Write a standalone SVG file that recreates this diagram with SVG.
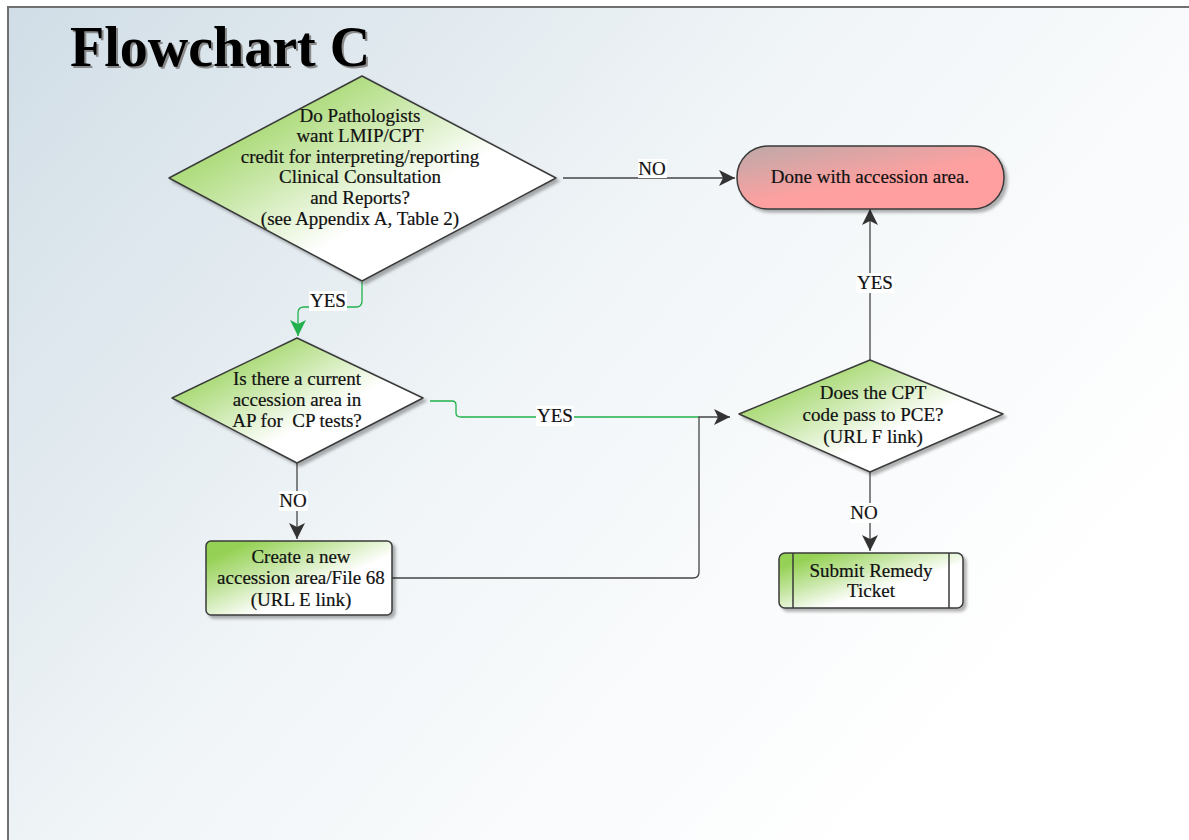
<svg xmlns="http://www.w3.org/2000/svg" width="1189" height="840" viewBox="0 0 1189 840">
<style>
.t{font-family:"Liberation Serif","Times New Roman",serif;font-size:19px;fill:#111;stroke:#111;stroke-width:0.2;text-anchor:middle}
.sh{stroke:#3a3a3a;stroke-width:1.5;stroke-linejoin:round}
.c{fill:none;stroke:#444;stroke-width:1.3}
.g{fill:none;stroke:#22b14c;stroke-width:1.3}
.lb{fill:#fff}
</style>
<defs>
<linearGradient id="bg" gradientUnits="userSpaceOnUse" x1="0" y1="0" x2="900" y2="800">
<stop offset="0" stop-color="#d0dde6"/><stop offset="0.55" stop-color="#f2f6f8"/><stop offset="1" stop-color="#ffffff"/>
</linearGradient>
<linearGradient id="gr" x1="0.1" y1="0.15" x2="0.8" y2="0.8">
<stop offset="0" stop-color="#95d154"/><stop offset="0.35" stop-color="#c6e6a4"/><stop offset="0.72" stop-color="#ffffff"/>
</linearGradient>
<linearGradient id="pk" x1="0" y1="0" x2="0.8" y2="1">
<stop offset="0" stop-color="#bca9a9"/><stop offset="0.6" stop-color="#ffa0a0"/><stop offset="1" stop-color="#ff9e9e"/>
</linearGradient>
<filter id="ds" x="-10%" y="-10%" width="130%" height="130%">
<feDropShadow dx="3" dy="3" stdDeviation="1.5" flood-color="#000" flood-opacity="0.3"/>
</filter>
<marker id="ah" markerUnits="userSpaceOnUse" markerWidth="18" markerHeight="18" refX="16" refY="8" orient="auto">
<path d="M0,0 L16,8 L0,16 L4,8 z" fill="#333"/>
</marker>
<marker id="ag" markerUnits="userSpaceOnUse" markerWidth="18" markerHeight="18" refX="16" refY="8" orient="auto">
<path d="M0,0 L16,8 L0,16 L4,8 z" fill="#22b14c"/>
</marker>
</defs>
<rect x="0" y="0" width="1189" height="840" fill="#ffffff"/>
<rect x="8" y="7" width="1181" height="833" fill="url(#bg)"/>
<path d="M8,840 V7 H1189" fill="none" stroke="#707070" stroke-width="2"/>
<g id="title">
<text x="72" y="68" font-family="'Liberation Serif','Times New Roman',serif" font-size="56" font-weight="bold" fill="#8a8a8a">Flowchart C</text>
<text x="70" y="66" font-family="'Liberation Serif','Times New Roman',serif" font-size="56" font-weight="bold" fill="#000">Flowchart C</text>
</g>
<g id="connectors">
<path class="c" d="M563,178 H735" marker-end="url(#ah)"/>
<path class="g" d="M362,282 V301 Q362,307 356,307 H304 Q298,307 298,313 V336" marker-end="url(#ag)"/>
<path class="c" d="M297,463 V539" marker-end="url(#ah)"/>
<path class="g" d="M430,401 H452 Q456,401 456,405 V413 Q456,417 461,417 H699"/>
<path class="c" d="M392,578 H693 Q699,578 699,572 V417 H730" marker-end="url(#ah)"/>
<path class="c" d="M870,360 V209" marker-end="url(#ah)"/>
<path class="c" d="M870,472 V551" marker-end="url(#ah)"/>
<rect class="lb" x="638" y="159" width="29" height="19"/><text class="t" x="652" y="175">NO</text>
<rect class="lb" x="309" y="291" width="38" height="20"/><text class="t" x="328" y="307">YES</text>
<rect class="lb" x="279" y="491" width="29" height="20"/><text class="t" x="293" y="507">NO</text>
<rect class="lb" x="536" y="406" width="38" height="20"/><text class="t" x="555" y="422">YES</text>
<rect class="lb" x="856" y="273" width="38" height="20"/><text class="t" x="875" y="289">YES</text>
<rect class="lb" x="850" y="503" width="29" height="20"/><text class="t" x="864" y="519">NO</text>
</g>
<g id="d1">
<polygon class="sh" points="362,76 556,178 362,281 169,178" fill="url(#gr)" filter="url(#ds)"/>
<text class="t" x="360" y="122">Do Pathologists</text>
<text class="t" x="360" y="142">want LMIP/CPT</text>
<text class="t" x="360" y="163">credit for interpreting/reporting</text>
<text class="t" x="360" y="183">Clinical Consultation</text>
<text class="t" x="360" y="204">and Reports?</text>
<text class="t" x="360" y="225">(see Appendix A, Table 2)</text>
</g>
<g id="done">
<rect class="sh" x="737" y="146" width="267" height="63" rx="31" fill="url(#pk)" filter="url(#ds)"/>
<text class="t" x="870" y="183">Done with accession area.</text>
</g>
<g id="d2">
<polygon class="sh" points="297,338 423,398 297,463 172,398" fill="url(#gr)" filter="url(#ds)"/>
<text class="t" x="297" y="385">Is there a current</text>
<text class="t" x="297" y="406">accession area in</text>
<text class="t" x="297" y="427" style="white-space:pre">AP for  CP tests?</text>
</g>
<g id="d3">
<polygon class="sh" points="870,360 1003,414 870,472 739,414" fill="url(#gr)" filter="url(#ds)"/>
<text class="t" x="873" y="399">Does the CPT</text>
<text class="t" x="873" y="421">code pass to PCE?</text>
<text class="t" x="873" y="443">(URL F link)</text>
</g>
<g id="create">
<rect class="sh" x="206" y="541" width="186" height="74" rx="5" fill="url(#gr)" filter="url(#ds)"/>
<text class="t" x="301" y="563">Create a new</text>
<text class="t" x="301" y="584">accession area/File 68</text>
<text class="t" x="301" y="606">(URL E link)</text>
</g>
<g id="submit">
<rect class="sh" x="779" y="553" width="184" height="55" rx="6" fill="url(#gr)" filter="url(#ds)"/>
<path class="sh" d="M793,553 V608 M949,553 V608" fill="none"/>
<text class="t" x="871" y="577">Submit Remedy</text>
<text class="t" x="871" y="597">Ticket</text>
</g>
</svg>
